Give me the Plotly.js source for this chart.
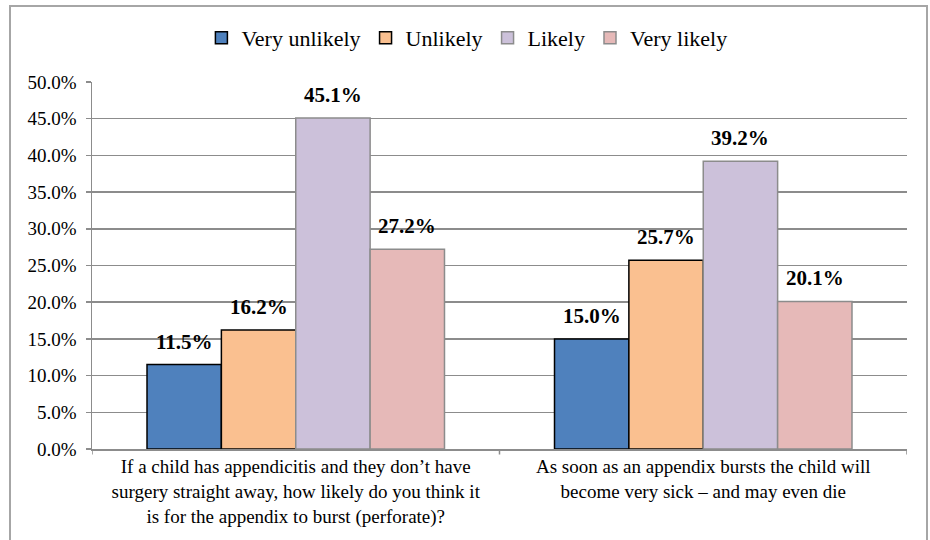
<!DOCTYPE html>
<html>
<head>
<meta charset="utf-8">
<script src="https://cdn.plot.ly/plotly-3.0.1.min.js"></script>
<style>
  html, body { margin: 0; padding: 0; background: #fff; }
  #chart { width: 930px; height: 540px; }
  #frame { position: absolute; left: 9px; top: 5px; width: 919px; height: 545px;
           border: 2px solid #a6a6a6; box-sizing: border-box; pointer-events: none; }
</style>
</head>
<body>
<div id="chart"></div>
<div id="frame"></div>
<script>
const categories = [
  "If a child has appendicitis and they don’t have<br>surgery straight away, how likely do you think it<br>is for the appendix to burst (perforate)?",
  "As soon as an appendix bursts the child will<br>become very sick – and may even die"
];
const seriesNames = ["Very unlikely", "Unlikely", "Likely", "Very likely"];
const veryUnlikely = [11.5, 15.0];
const unlikely = [16.2, 25.7];
const likely = [45.1, 39.2];
const veryLikely = [27.2, 20.1];
const yTickVals = [0, 5, 10, 15, 20, 25, 30, 35, 40, 45, 50];
const yTickText = ["0.0%", "5.0%", "10.0%", "15.0%", "20.0%", "25.0%", "30.0%", "35.0%", "40.0%", "45.0%", "50.0%"];

const seriesValues = [veryUnlikely, unlikely, likely, veryLikely];
const fills = ["#4F81BD", "#FAC090", "#CCC1DA", "#E6B9B8"];
const outlines = ["#000000", "#000000", "#8c8c8c", "#8c8c8c"];
const bargap = 0.27;
const font = "'Liberation Serif', 'Times New Roman', serif";

const traces = seriesValues.map((vals, i) => ({
  type: "bar",
  name: seriesNames[i],
  x: categories.map((c, j) => j),
  y: vals,
  marker: { color: fills[i], line: { color: outlines[i], width: 1.5 } },
  hoverinfo: "none"
}));

const nS = seriesValues.length;
const barW = (1 - bargap) / nS;
const annotations = [];
seriesValues.forEach((vals, i) => {
  vals.forEach((v, j) => {
    annotations.push({
      x: j - (1 - bargap) / 2 + barW * (i + 0.5),
      y: v,
      xref: "x", yref: "y",
      text: "<b>" + v.toFixed(1) + "%</b>",
      showarrow: false,
      yanchor: "bottom",
      yshift: 9,
      font: { family: font, size: 21, color: "#000" }
    });
  });
});

const layout = {
  width: 930, height: 540,
  margin: { l: 92, r: 23, t: 82, b: 91, autoexpand: false },
  paper_bgcolor: "#fff", plot_bgcolor: "#fff",
  font: { family: font, color: "#000" },
  barmode: "group",
  bargap: bargap,
  bargroupgap: 0,
  showlegend: true,
  legend: {
    orientation: "h", x: 0.46, xanchor: "center", y: 1.12, yanchor: "middle",
    font: { family: font, size: 22, color: "#000" },
    itemwidth: 30, traceorder: "normal"
  },
  xaxis: {
    type: "linear",
    range: [-0.5, 1.5],
    tickvals: categories.map((c, j) => j),
    ticktext: categories,
    ticks: "",
    showgrid: false,
    zeroline: false,
    showline: true, linecolor: "#8c8c8c", linewidth: 1.5,
    tickfont: { family: font, size: 19, color: "#000" },
    fixedrange: true
  },
  yaxis: {
    range: [0, 50],
    tickvals: yTickVals,
    ticktext: yTickText,
    ticks: "outside", ticklen: 5, tickcolor: "#8c8c8c", tickwidth: 1.5,
    ticklabelstandoff: 5,
    showgrid: true, gridcolor: "#8c8c8c", gridwidth: 1.5,
    zeroline: false,
    showline: true, linecolor: "#8c8c8c", linewidth: 1.5,
    tickfont: { family: font, size: 19, color: "#000" },
    fixedrange: true
  },
  shapes: [-0.5, 0.5, 1.5].map(b => ({
    type: "line", xref: "x", yref: "paper",
    x0: b, x1: b, y0: 0, y1: -0.015,
    line: { color: "#8c8c8c", width: 1.5 }
  })),
  annotations: annotations
};

Plotly.newPlot("chart", traces, layout, { displayModeBar: false, staticPlot: true });
</script>
</body>
</html>
